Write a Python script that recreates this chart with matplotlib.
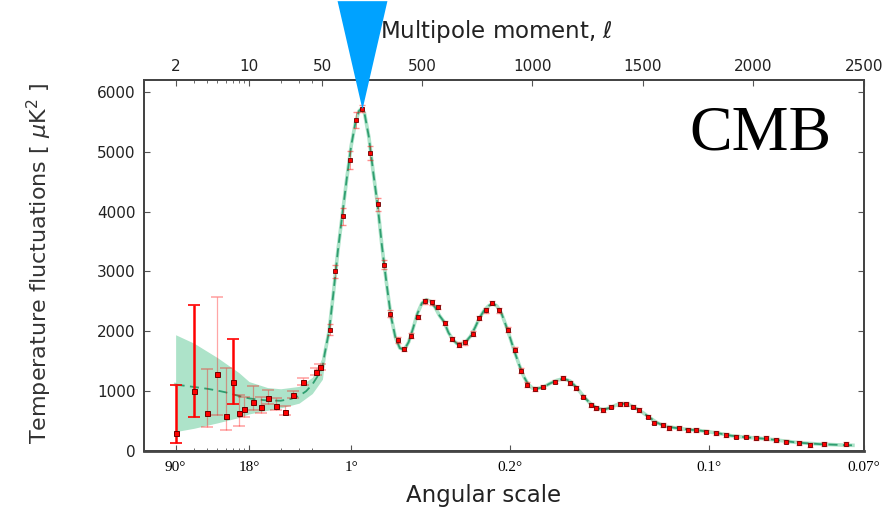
import numpy as np
import matplotlib
matplotlib.use("Agg")
import matplotlib.pyplot as plt

# low multipoles (ell, D_ell, lower, upper)
low_ell = [2, 3, 4, 5, 6, 7, 8, 9, 11, 13, 15, 18, 22, 26, 33, 43, 47]
low_D = [300, 1005, 637, 1290, 586, 1156, 637, 703, 820, 737, 888, 754, 653, 938, 1156, 1323, 1407]
low_lo = [134, 570, 402, 600, 350, 787, 420, 560, 680, 640, 790, 690, 600, 880, 1100, 1270, 1360]
low_hi = [1105, 2445, 1374, 2580, 1390, 1876, 940, 900, 1080, 900, 1020, 880, 760, 1010, 1220, 1380, 1450]
low_bright = [True, True, False, False, False, True, False, False, False, False, False, False, False, False, False, False, False]

# high multipoles (binned)
hi_ell = [82, 109, 142, 175, 202, 228, 266, 300, 330, 356, 391, 421, 451, 481, 516, 546, 572,
          606, 637, 667, 697, 730, 760, 791, 818, 851, 888, 919, 949, 975, 1012, 1047, 1100,
          1137, 1168, 1198, 1228, 1266, 1288, 1318, 1356, 1394, 1424, 1454, 1484, 1522, 1552,
          1590, 1620, 1665, 1703, 1741, 1786, 1831, 1877, 1922, 1967, 2012, 2058, 2103, 2148,
          2208, 2254, 2321, 2419]
hi_D = [2030, 3000, 3925, 4863, 5533, 5720, 4975, 4121, 3116, 2295, 1848, 1703, 1926, 2239, 2501,
        2484, 2407, 2139, 1871, 1776, 1814, 1960, 2223, 2350, 2474, 2350, 2027, 1692, 1340, 1106,
        1036, 1077, 1161, 1218, 1134, 1050, 910, 771, 715, 687, 742, 787, 787, 742, 687, 575, 474,
        436, 380, 380, 352, 352, 323, 296, 268, 240, 240, 213, 213, 184, 156, 129, 100, 117, 117]
hi_err = [90, 110, 140, 150, 130, 60, 120, 110, 80, 60, 50, 40, 40, 40, 40, 40, 40,
          40, 40, 40, 40, 40, 40, 40, 40, 40, 40, 40, 40, 40, 30, 30, 30,
          30, 30, 30, 30, 30, 30, 30, 30, 30, 30, 30, 30, 30, 30,
          30, 30, 30, 30, 30, 30, 30, 30, 30, 30, 30, 30, 30, 30,
          30, 30, 30, 30]

# best-fit model curve
model_ell = [2, 3, 4, 5, 6, 8, 10, 12, 15, 20, 25, 30, 35, 40, 45, 50, 60, 80, 100, 120, 140, 160,
             180, 200, 215, 228, 240, 260, 280, 300, 320, 340, 360, 380, 400, 420, 440, 460, 480,
             500, 520, 540, 560, 580, 600, 620, 640, 660, 680, 700, 720, 740, 760, 780, 800, 820,
             840, 860, 880, 900, 920, 940, 960, 980, 1000, 1020, 1050, 1080, 1110, 1140, 1170,
             1200, 1230, 1260, 1290, 1320, 1350, 1380, 1410, 1440, 1470, 1500, 1530, 1560, 1590,
             1620, 1660, 1700, 1750, 1800, 1850, 1900, 1950, 2000, 2050, 2100, 2200, 2300, 2400, 2450]
model_D = [1110, 1070, 1040, 1010, 980, 920, 880, 860, 845, 840, 870, 920, 1000, 1110, 1250, 1400,
           1620, 2000, 2650, 3350, 3950, 4550, 5100, 5500, 5680, 5730, 5650, 5250, 4650, 4100, 3400,
           2800, 2250, 1900, 1720, 1690, 1820, 2050, 2300, 2470, 2530, 2500, 2400, 2260, 2160, 1980,
           1860, 1790, 1790, 1830, 1920, 2060, 2220, 2340, 2420, 2470, 2420, 2300, 2100, 1880, 1650,
           1440, 1250, 1120, 1050, 1040, 1070, 1130, 1180, 1210, 1170, 1060, 920, 800, 720, 690, 720,
           770, 790, 770, 710, 640, 560, 480, 430, 400, 380, 360, 345, 320, 290, 255, 235, 220, 205,
           185, 140, 115, 100, 95]

# cosmic variance band at low ell
band_ell = [2, 3, 5, 8, 10, 15, 20, 30, 40, 50, 60]
band_lo = [324, 380, 470, 560, 620, 680, 720, 800, 960, 1200, 1500]
band_hi = [1943, 1800, 1560, 1310, 1160, 1060, 1040, 1080, 1230, 1560, 1740]

top_ticks = [2, 10, 50, 500, 1000, 1500, 2000, 2500]
minor_ticks = [3, 4, 5, 6, 7, 8, 9, 20, 30, 40]
ang_ticks = [2, 10, 180, 900, 1800, 2500]
ang_labels = ['90°', '18°', '1°', '0.2°', '0.1°', '0.07°']
peak = (228, 5720)


# log below ell=50, linear above
def fwd(l):
    l = np.asarray(l, dtype=float)
    return np.where(l <= 50, 105 * np.log10(np.clip(l, 1e-3, None) / 50), 0.221 * (l - 50))


def inv(p):
    p = np.asarray(p, dtype=float)
    return np.where(p <= 0, 50 * 10 ** (np.clip(p, -2000, 0) / 105), 50 + p / 0.221)


fig = plt.figure(figsize=(8.86, 5.11), dpi=100)
ax = fig.add_axes([144 / 886, 60 / 511, 720 / 886, 371 / 511])
ax.set_xscale('function', functions=(fwd, inv))
ax.set_xlim(1, 2500)
ax.set_ylim(0, 6200)

green = '#2f9e70'
mint = '#ade3c9'
ax.fill_between(band_ell, band_lo, band_hi, color=mint, lw=0, zorder=1)
ax.plot(model_ell, model_D, color=mint, lw=2.6, zorder=2)
ax.plot(model_ell, model_D, color=green, lw=1.3, ls=(0, (5, 3)), zorder=3)

for l, d, lo, hi, b in zip(low_ell, low_D, low_lo, low_hi, low_bright):
    ax.errorbar([l], [d], yerr=[[d - lo], [hi - d]], fmt='none', ecolor='red',
                elinewidth=1.8 if b else 0.9, capsize=4, capthick=1.2,
                alpha=1.0 if b else 0.35, zorder=4)
ax.plot(low_ell, low_D, 's', ms=3.6, mfc='red', mec='#6a0000', mew=0.7, zorder=5)

ax.errorbar(hi_ell, hi_D, yerr=hi_err, fmt='none', ecolor='red', elinewidth=0.6,
            capsize=2.5, alpha=0.45, zorder=4)
ax.plot(hi_ell, hi_D, 's', ms=3.4, mfc='red', mec='#6a0000', mew=0.6, zorder=5)

for s in ax.spines.values():
    s.set_color('#444444')
    s.set_linewidth(1.3)
ax.spines['bottom'].set_linewidth(2)

ax.set_yticks(range(0, 7000, 1000))
ax.set_xticks(ang_ticks)
ax.set_xticklabels(ang_labels, family='Liberation Serif', fontsize=11)
ax.set_xticks(minor_ticks, minor=True)
ax.tick_params(axis='both', which='both', direction='in', color='#555555')
ax.tick_params(axis='x', which='major', length=4, pad=7)
ax.tick_params(axis='x', which='minor', length=2.5)
ax.tick_params(axis='y', length=4, pad=6, labelsize=11, right=True, labelcolor='#222222')
ax.set_xlabel('Angular scale', fontsize=16.5, color='#222222')
ax.xaxis.set_label_coords(0.471, -0.09)
ax.set_ylabel('Temperature fluctuations [ $\\mu$K$^2$ ]', fontsize=16, color='#333333')
ax.yaxis.set_label_coords(-0.125, 0.507)

ax2 = ax.twiny()
ax2.set_xscale('function', functions=(fwd, inv))
ax2.set_xlim(ax.get_xlim())
ax2.set_xticks(top_ticks)
ax2.set_xticklabels([str(t) for t in top_ticks], fontsize=11, color='#222222')
ax2.set_xticks(minor_ticks, minor=True)
ax2.tick_params(axis='x', which='both', direction='in', color='#555555')
ax2.tick_params(axis='x', which='major', length=4, pad=4)
ax2.tick_params(axis='x', which='minor', length=2.5)
ax2.set_xlabel('Multipole moment, $\\ell$', fontsize=16.5, color='#222222')
ax2.xaxis.set_label_coords(0.49, 1.113)
for s in ax2.spines.values():
    s.set_color('#444444')
    s.set_linewidth(1.3)

# pointer triangle with its tip on the first peak
tri = [(-0.23, 1.0), (0.23, 1.0), (0.0, 0.0), (-0.23, 1.0)]
ax2.plot([peak[0]], [peak[1]], marker=tri, ms=156, color='#00a2ff', mec='none',
         clip_on=False, zorder=20, ls='none')

ax.text(0.856, 0.852, 'CMB', transform=ax.transAxes, fontsize=46,
        family='Liberation Serif', ha='center', va='center', color='black')

fig.savefig('out.png', dpi=100)
